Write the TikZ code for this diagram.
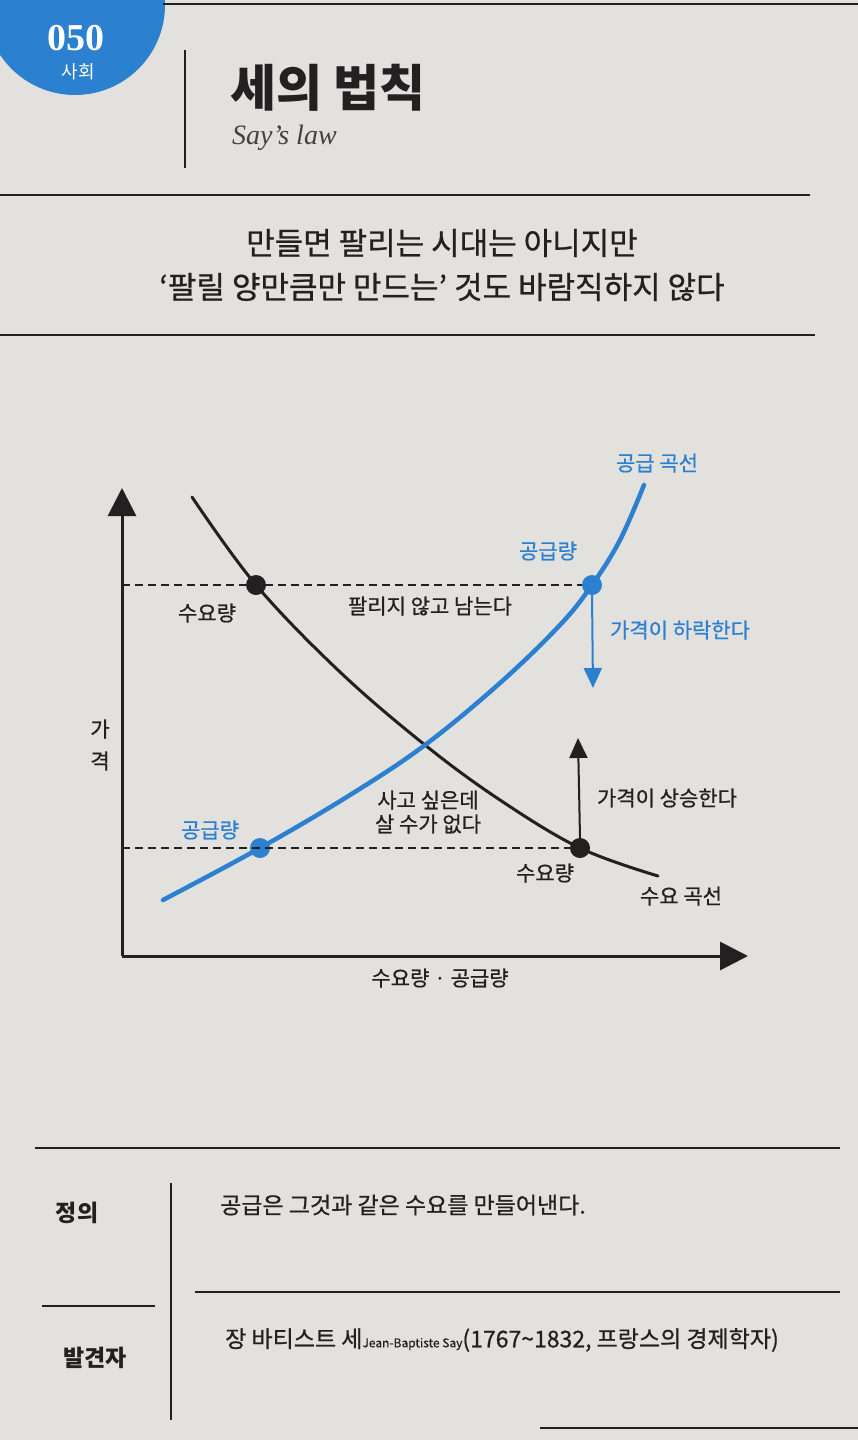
\documentclass[tikz,border=0pt]{standalone}
\usepackage{fontspec}
\newfontfamily\krfont{Noto Sans CJK KR}
\newfontfamily\krmid{Noto Sans CJK KR}[FakeBold=0.7]
\newfontfamily\serifbook{Liberation Serif}
\usetikzlibrary{arrows.meta, positioning}
\definecolor{pagegray}{RGB}{226,225,222}
\definecolor{sayblue}{RGB}{44,128,208}
\definecolor{inkdark}{RGB}{34,32,32}

\begin{document}
\begin{tikzpicture}[x=1pt, y=-1pt, >={Triangle[length=20pt, width=18pt]},
    lbl/.style={font=\krmid\fontsize{21}{24}\selectfont, text=inkdark, inner sep=0pt, align=center},
    bluelbl/.style={lbl, text=sayblue},
    rowlbl/.style={font=\krfont\bfseries\fontsize{23}{26}\selectfont, text=inkdark, inner sep=0pt},
    rowtext/.style={font=\krmid\fontsize{23}{26}\selectfont, text=inkdark, inner sep=0pt, anchor=west},
    rule/.style={line width=2pt, draw=inkdark},
    axis/.style={line width=3pt, draw=inkdark, -{Triangle[length=28pt, width=28pt]}},
    guide/.style={line width=1.4pt, draw=inkdark, dash pattern=on 8pt off 5pt},
    dot/.style={circle, fill=#1, minimum size=20pt, inner sep=0pt}]
    % Bìa trang
    \useasboundingbox (0,0) rectangle (858,1440);
    \fill[pagegray] (0,0) rectangle (858,1440);
    \begin{scope}
        \clip (0,0) rectangle (858,1440);
        \fill[sayblue] (75,5) circle (90);
    \end{scope}
    \node[font=\serifbook\bfseries\fontsize{38}{40}\selectfont, text=white, inner sep=0pt] (num) at (76,38) {050};
    \node[font=\krfont\fontsize{18}{20}\selectfont, text=white, inner sep=0pt] (field) at (78,72) {사회};

    % Tiêu đề
    \coordinate (topa) at (163,4);
    \coordinate (topb) at (858,4);
    \draw[rule] (topa) -- (topb);
    \coordinate (bara) at (185,50);
    \coordinate (barb) at (185,168);
    \draw[rule] (bara) -- (barb);
    \node[font=\krfont\bfseries\fontsize{50}{54}\selectfont, text=inkdark, anchor=west, inner sep=0pt] (title) at (230,88) {세의 법칙};
    \node[font=\serifbook\itshape\fontsize{28}{30}\selectfont, text=inkdark!85, anchor=west, inner sep=0pt] (subtitle) at (232,138) {Say’s law};
    \coordinate (hra) at (0,195);
    \coordinate (hrb) at (810,195);
    \draw[rule] (hra) -- (hrb);
    \node[font=\krmid\fontsize{31}{44}\selectfont, text=inkdark, align=center, inner sep=0pt] (motto) at (442,265)
        {만들면 팔리는 시대는 아니지만\\‘팔릴 양만큼만 만드는’ 것도 바람직하지 않다};
    \coordinate (hrc) at (0,335);
    \coordinate (hrd) at (815,335);
    \draw[rule] (hrc) -- (hrd);

    % Hệ trục
    \coordinate (O) at (122,956);
    \coordinate (ytop) at (122,488);
    \coordinate (xend) at (748,956);
    \draw[axis] (O) -- (ytop);
    \draw[axis] (O) -- (xend);
    \node[lbl, font=\krmid\fontsize{21}{32}\selectfont] (ylab) at (100,745) {가\\격};
    \node[lbl] (xlab) at (440,978) {수요량 · 공급량};

    % Đường cầu và đường cung
    \draw[line width=3pt, inkdark, line cap=round] plot[smooth, tension=0.6] coordinates
        {(192,497) (256,585) (340,672) (425,745) (500,800) (580,848) (658,876)};
    \draw[line width=4.5pt, sayblue, line cap=round] plot[smooth, tension=0.6] coordinates
        {(163,900) (260,848) (350,795) (425,745) (500,683) (560,625) (592,585) (620,540) (644,485)};

    % Giá cao: thừa cung
    \coordinate (yhigh) at (122,585);
    \node[dot=inkdark] (D1) at (256,585) {};
    \node[dot=sayblue] (S1) at (592,585) {};
    \draw[guide] (yhigh) -- (S1);
    \coordinate (fallend) at (593,688);
    \draw[->, line width=2pt, sayblue] (S1.south) -- (fallend);

    % Giá thấp: thừa cầu
    \coordinate (ylow) at (122,848);
    \node[dot=sayblue] (S2) at (260,848) {};
    \node[dot=inkdark] (D2) at (580,848) {};
    \draw[guide] (ylow) -- (D2);
    \coordinate (riseend) at (578,738);
    \draw[->, line width=2pt, inkdark] (D2.north) -- (riseend);

    % Nhãn
    \node[bluelbl] (supcurve) at (657,463) {공급 곡선};
    \node[bluelbl] (supqhigh) at (548,551) {공급량};
    \node[lbl] (demqhigh) at (207,613) {수요량};
    \node[lbl] (surplus) at (430,606) {팔리지 않고 남는다};
    \node[bluelbl] (fall) at (680,630) {가격이 하락한다};
    \node[lbl] (rise) at (667,798) {가격이 상승한다};
    \node[lbl] (shortage) at (428,812) {사고 싶은데\\살 수가 없다};
    \node[bluelbl] (supqlow) at (210,830) {공급량};
    \node[lbl] (demqlow) at (545,873) {수요량};
    \node[lbl] (demcurve) at (681,896) {수요 곡선};

    % Bảng định nghĩa
    \coordinate (tba) at (35,1148);
    \coordinate (tbb) at (840,1148);
    \draw[rule] (tba) -- (tbb);
    \coordinate (tva) at (171,1183);
    \coordinate (tvb) at (171,1420);
    \draw[rule] (tva) -- (tvb);
    \node[rowlbl] (defkey) at (77,1213) {정의};
    \node[rowtext] (defval) at (220,1205) {공급은 그것과 같은 수요를 만들어낸다.};
    \coordinate (tsa) at (42,1306);
    \coordinate (tsb) at (155,1306);
    \draw[rule] (tsa) -- (tsb);
    \coordinate (tla) at (195,1292);
    \coordinate (tlb) at (840,1292);
    \draw[rule] (tla) -- (tlb);
    \node[rowlbl] (whokey) at (95,1358) {발견자};
    \node[rowtext] (whoval) at (225,1340)
        {장 바티스트 세{\fontsize{12}{14}\selectfont Jean-Baptiste Say}(1767\textasciitilde 1832, 프랑스의 경제학자)};
    \coordinate (tea) at (540,1428);
    \coordinate (teb) at (858,1428);
    \draw[rule] (tea) -- (teb);
\end{tikzpicture}
\end{document}
